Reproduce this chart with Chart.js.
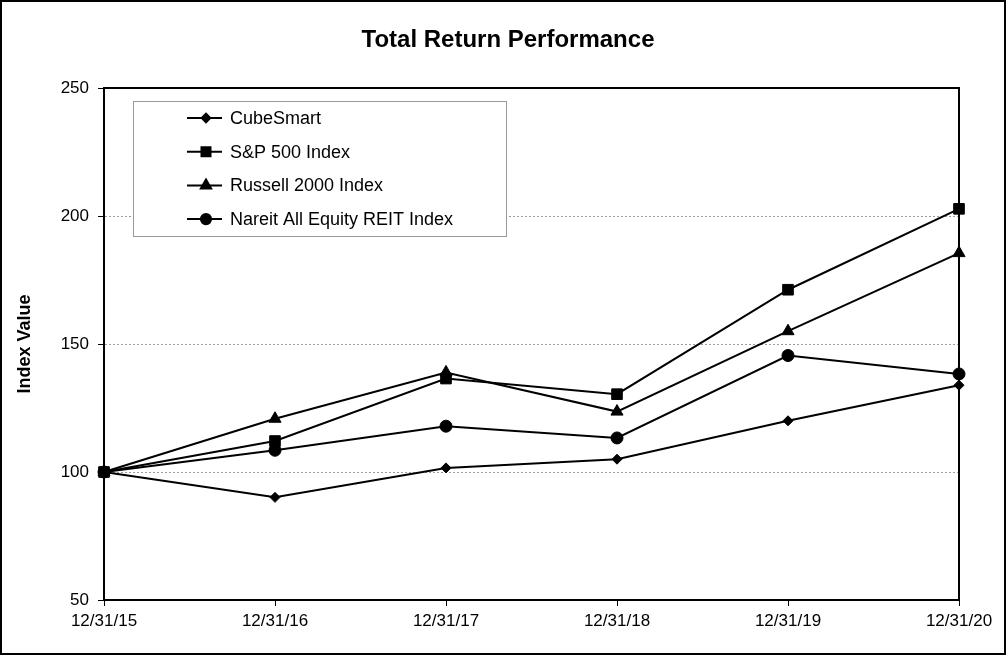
<!DOCTYPE html>
<html>
<head>
<meta charset="utf-8">
<script src="https://cdn.jsdelivr.net/npm/chart.js@4/dist/chart.umd.min.js"></script>
<style>
  html, body { margin: 0; padding: 0; background: #fff; }
  #wrap { width: 1006px; height: 655px; }
</style>
</head>
<body>
<div id="wrap"><canvas id="chart" width="1006" height="655"></canvas></div>
<script>
// values
const years = ['12/31/15', '12/31/16', '12/31/17', '12/31/18', '12/31/19', '12/31/20'];
const cubeSmart = [100, 90.1, 101.6, 105.0, 120.0, 133.9];
const sp500 = [100, 112.1, 136.5, 130.4, 171.2, 202.8];
const russell2000 = [100, 120.8, 138.9, 123.6, 155.0, 185.5];
const nareit = [100, 108.5, 117.9, 113.3, 145.5, 138.3];
const yTicks = [50, 100, 150, 200, 250];
const chartTitle = 'Total Return Performance';

const FONT = "'Liberation Sans', Arial, sans-serif";
Chart.defaults.font.family = FONT;
Chart.defaults.color = '#000';

function series(label, data, style, radius) {
  return {
    label: label,
    data: data,
    borderColor: '#000',
    backgroundColor: '#000',
    borderWidth: 2,
    pointStyle: style,
    pointRadius: radius,
    pointBorderWidth: 1,
    pointBackgroundColor: '#000',
    pointBorderColor: '#000',
    tension: 0,
    clip: false
  };
}

// outer frame, centred title, plot box
const framePlugin = {
  id: 'frame',
  beforeDraw(chart) {
    const ctx = chart.ctx;
    ctx.save();
    ctx.fillStyle = '#fff';
    ctx.fillRect(0, 0, chart.width, chart.height);
    ctx.strokeStyle = '#000';
    ctx.lineWidth = 2;
    ctx.strokeRect(1, 1, chart.width - 2, chart.height - 2);
    ctx.fillStyle = '#000';
    ctx.font = 'bold 24px ' + FONT;
    ctx.textAlign = 'center';
    ctx.textBaseline = 'middle';
    ctx.fillText(chartTitle, 508, 40);
    ctx.restore();
  },
  beforeDatasetsDraw(chart) {
    const a = chart.chartArea;
    const ctx = chart.ctx;
    ctx.save();
    ctx.strokeStyle = '#000';
    ctx.lineWidth = 2;
    ctx.strokeRect(a.left, a.top, a.right - a.left, a.bottom - a.top);
    ctx.restore();
  }
};

// boxed legend inside the plot
const boxLegend = {
  id: 'boxLegend',
  afterDatasetsDraw(chart) {
    const ctx = chart.ctx;
    const x0 = 133.5, y0 = 101.5, w = 373, h = 135;
    ctx.save();
    ctx.fillStyle = '#fff';
    ctx.fillRect(x0, y0, w, h);
    ctx.strokeStyle = '#9a9a9a';
    ctx.lineWidth = 1;
    ctx.strokeRect(x0, y0, w, h);
    ctx.font = '18px ' + FONT;
    ctx.textBaseline = 'middle';
    chart.data.datasets.forEach((ds, i) => {
      const y = 118 + i * 33.7;
      ctx.strokeStyle = '#000';
      ctx.lineWidth = 2;
      ctx.beginPath();
      ctx.moveTo(187, y);
      ctx.lineTo(222, y);
      ctx.stroke();
      ctx.fillStyle = '#000';
      Chart.helpers.drawPoint(ctx, {
        pointStyle: ds.pointStyle,
        radius: ds.pointRadius * 0.85,
        borderWidth: 1
      }, 206, y);
      ctx.fillStyle = '#000';
      ctx.fillText(ds.label, 230, y + 1);
    });
    ctx.restore();
  }
};

new Chart(document.getElementById('chart'), {
  type: 'line',
  data: {
    labels: years,
    datasets: [
      series('CubeSmart', cubeSmart, 'rectRot', 5),
      series('S&P 500 Index', sp500, 'rect', 7.5),
      series('Russell 2000 Index', russell2000, 'triangle', 7),
      series('Nareit All Equity REIT Index', nareit, 'circle', 6)
    ]
  },
  options: {
    responsive: false,
    animation: false,
    layout: { padding: { left: 0, right: 47, top: 88, bottom: 0 } },
    plugins: {
      legend: { display: false },
      tooltip: { enabled: false },
      title: { display: false }
    },
    scales: {
      x: {
        offset: false,
        afterFit(s) { s.height = 55; },
        grid: {
          drawOnChartArea: false,
          drawTicks: true,
          tickLength: 6,
          tickColor: '#000',
          tickWidth: 1
        },
        border: { display: true, color: '#000', width: 2 },
        ticks: {
          maxRotation: 0,
          autoSkip: false,
          padding: 5,
          font: { size: 17 }
        }
      },
      y: {
        min: 50,
        max: 250,
        afterFit(s) { s.width = 104; },
        afterBuildTicks(s) { s.ticks = yTicks.map(v => ({ value: v })); },
        grid: {
          color(c) {
            return (c.tick && c.tick.value > 50 && c.tick.value < 250) ? '#9a9a9a' : 'rgba(0,0,0,0)';
          },
          lineWidth: 1,
          drawTicks: true,
          tickLength: 6,
          tickColor: '#000',
          tickWidth: 1
        },
        border: { display: true, color: '#000', width: 2, dash: [2, 2] },
        ticks: {
          padding: 9,
          font: { size: 17 }
        },
        title: {
          display: true,
          text: 'Index Value',
          font: { size: 18, weight: 'bold' },
          padding: { top: 14, bottom: 0 }
        }
      }
    }
  },
  plugins: [framePlugin, boxLegend]
});
</script>
</body>
</html>
